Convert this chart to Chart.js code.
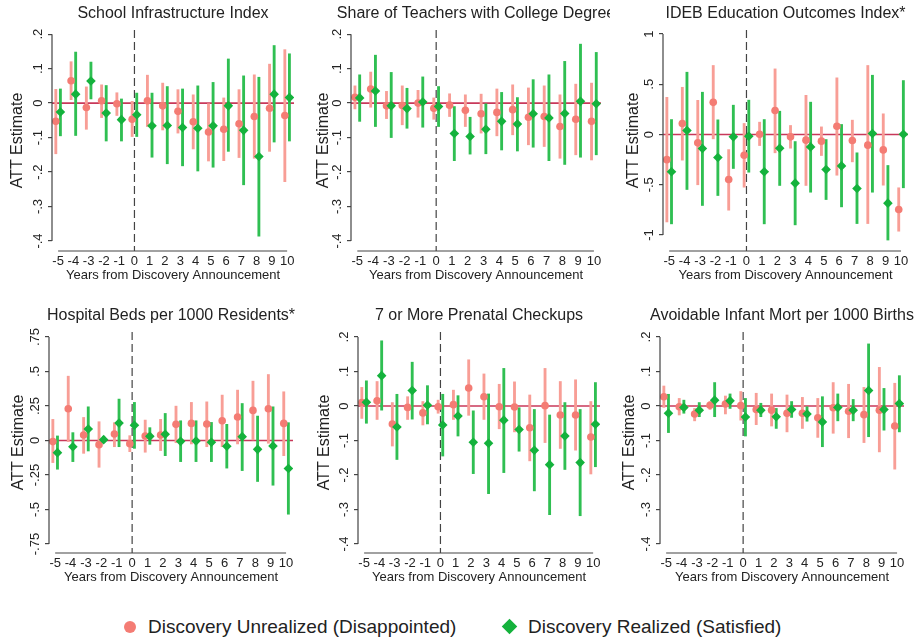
<!DOCTYPE html>
<html>
<head>
<meta charset="utf-8">
<script src="https://cdn.jsdelivr.net/npm/chart.js@4.4.1/dist/chart.umd.min.js"></script>
<style>
  body { margin: 0; background: #fff; width: 915px; height: 641px; overflow: hidden; position: relative;
         font-family: "Liberation Sans", Arial, sans-serif; }
  canvas { position: absolute; }
  .legend-item { position: absolute; top: 615px; height: 24px; line-height: 24px; font-size: 19px; color: #222; white-space: nowrap; }
  .dot { position: absolute; width: 12px; height: 12px; border-radius: 50%; background: #f47c74; top: 621px; }
  .diamond { position: absolute; width: 11px; height: 11px; background: #14b23c; transform: rotate(45deg); top: 621px; }
</style>
</head>
<body>
<canvas id="p0"></canvas>
<canvas id="p1"></canvas>
<canvas id="p2"></canvas>
<canvas id="p3"></canvas>
<canvas id="p4"></canvas>
<canvas id="p5"></canvas>

<div class="dot" style="left:124px"></div>
<div class="legend-item" style="left:148px">Discovery Unrealized (Disappointed)</div>
<div class="diamond" style="left:504px"></div>
<div class="legend-item" style="left:528px">Discovery Realized (Satisfied)</div>

<script>
const years = [-5, -4, -3, -2, -1, 0, 1, 2, 3, 4, 5, 6, 7, 8, 9, 10];

const panelTitles = [
    'School Infrastructure Index',
    'Share of Teachers with College Degree',
    'IDEB Education Outcomes Index*',
    'Hospital Beds per 1000 Residents*',
    '7 or More Prenatal Checkups',
    'Avoidable Infant Mort per 1000 Births'
];

const ticksSmall = [0.2, 0.1, 0, -0.1, -0.2, -0.3, -0.4];
const ticksIdeb = [1, 0.5, 0, -0.5, -1];
const ticksBeds = [0.75, 0.5, 0.25, 0, -0.25, -0.5, -0.75];

// School Infrastructure Index
const schoolUnrealEst = [-0.053, 0.065, -0.013, 0.007, -0.002, -0.047, 0.007, -0.008, -0.024, -0.054, -0.084, -0.076, -0.060, -0.039, -0.015, -0.036];
const schoolUnrealLo = [-0.147, 0.010, -0.076, -0.042, -0.036, -0.097, -0.068, -0.078, -0.087, -0.133, -0.168, -0.167, -0.158, -0.160, -0.140, -0.228];
const schoolUnrealHi = [0.040, 0.120, 0.047, 0.053, 0.030, 0.005, 0.081, 0.058, 0.039, 0.024, 0.000, 0.015, 0.039, 0.082, 0.113, 0.155];
const schoolRealEst = [-0.026, 0.026, 0.064, -0.029, -0.048, -0.034, -0.066, -0.065, -0.071, -0.073, -0.066, -0.008, -0.079, -0.155, 0.026, 0.016];
const schoolRealLo = [-0.095, -0.094, 0.012, -0.110, -0.110, -0.097, -0.157, -0.176, -0.182, -0.197, -0.186, -0.140, -0.237, -0.386, -0.113, -0.110];
const schoolRealHi = [0.041, 0.148, 0.119, 0.051, 0.012, 0.029, 0.029, 0.048, 0.041, 0.050, 0.060, 0.128, 0.079, 0.075, 0.167, 0.143];

// Share of Teachers with College Degree
const teachUnrealEst = [0.017, 0.041, -0.008, -0.007, 0.000, -0.015, -0.006, -0.021, -0.031, -0.027, -0.019, -0.041, -0.039, -0.068, -0.047, -0.053];
const teachUnrealLo = [-0.017, -0.012, -0.045, -0.063, -0.041, -0.047, -0.039, -0.068, -0.087, -0.095, -0.092, -0.121, -0.126, -0.160, -0.150, -0.165];
const teachUnrealHi = [0.050, 0.090, 0.034, 0.050, 0.037, 0.015, 0.027, 0.024, 0.026, 0.041, 0.053, 0.044, 0.050, 0.024, 0.055, 0.058];
const teachRealEst = [0.015, 0.035, -0.008, -0.016, 0.003, -0.010, -0.088, -0.097, -0.076, -0.053, -0.061, -0.031, -0.043, -0.030, 0.005, -0.002];
const teachRealLo = [-0.053, -0.068, -0.100, -0.073, -0.070, -0.068, -0.167, -0.148, -0.147, -0.136, -0.139, -0.128, -0.167, -0.178, -0.157, -0.150];
const teachRealHi = [0.082, 0.139, 0.089, 0.043, 0.076, 0.048, -0.010, -0.041, -0.002, 0.031, 0.016, 0.068, 0.082, 0.121, 0.171, 0.147];

// IDEB Education Outcomes Index
const idebUnrealEst = [-0.250, 0.110, -0.083, 0.320, -0.448, -0.206, 0.003, 0.239, -0.023, -0.056, -0.066, 0.083, -0.060, -0.106, -0.153, -0.746];
const idebUnrealLo = [-0.870, -0.255, -0.500, -0.043, -0.753, -0.524, -0.110, -0.182, -0.136, -0.507, -0.209, -0.405, -0.272, -0.886, -0.504, -0.962];
const idebUnrealHi = [0.370, 0.470, 0.340, 0.687, -0.150, 0.110, 0.123, 0.653, 0.090, 0.390, 0.076, 0.564, 0.143, 0.687, 0.206, -0.530];
const idebRealEst = [-0.371, 0.040, -0.139, -0.229, -0.023, -0.017, -0.371, -0.136, -0.484, -0.123, -0.348, -0.312, -0.537, 0.010, -0.683, 0.003];
const idebRealLo = [-0.889, -0.547, -0.706, -0.607, -0.338, -0.375, -0.889, -0.507, -0.899, -0.574, -0.647, -0.720, -0.886, -0.574, -1.050, -0.530];
const idebRealHi = [0.149, 0.620, 0.421, 0.146, 0.292, 0.342, 0.149, 0.232, -0.070, 0.322, -0.050, 0.100, -0.182, 0.590, -0.308, 0.537];

// Hospital Beds per 1000 Residents
const bedsUnrealEst = [-0.008, 0.230, 0.040, -0.030, 0.047, -0.023, 0.033, 0.040, 0.117, 0.124, 0.120, 0.143, 0.170, 0.218, 0.230, 0.124];
const bedsUnrealLo = [-0.160, -0.008, -0.093, -0.194, -0.045, -0.081, -0.085, -0.073, -0.016, -0.025, -0.045, -0.045, -0.025, 0.004, -0.020, -0.110];
const bedsUnrealHi = [0.153, 0.466, 0.167, 0.136, 0.129, 0.035, 0.148, 0.153, 0.249, 0.276, 0.280, 0.329, 0.365, 0.430, 0.478, 0.353];
const bedsRealEst = [-0.088, -0.045, 0.083, 0.006, 0.126, 0.110, 0.030, 0.045, -0.006, -0.004, -0.013, -0.042, 0.028, -0.064, -0.040, -0.203];
const bedsRealLo = [-0.208, -0.153, -0.076, -0.016, -0.045, -0.057, -0.028, -0.110, -0.153, -0.153, -0.153, -0.200, -0.218, -0.297, -0.324, -0.534];
const bedsRealHi = [0.033, 0.057, 0.244, 0.028, 0.300, 0.276, 0.093, 0.196, 0.143, 0.143, 0.131, 0.117, 0.268, 0.177, 0.244, 0.129];

// 7 or More Prenatal Checkups
const prenatalUnrealEst = [0.010, 0.015, -0.052, -0.004, -0.020, -0.002, 0.004, 0.052, 0.027, -0.002, -0.003, -0.063, 0.001, -0.026, -0.026, -0.090];
const prenatalUnrealLo = [-0.036, -0.039, -0.116, -0.039, -0.055, -0.021, -0.039, -0.027, -0.039, -0.066, -0.075, -0.159, -0.106, -0.123, -0.128, -0.197];
const prenatalUnrealHi = [0.054, 0.071, 0.010, 0.027, 0.013, 0.017, 0.046, 0.134, 0.093, 0.063, 0.070, 0.032, 0.109, 0.071, 0.076, 0.013];
const prenatalRealEst = [0.011, 0.088, -0.061, 0.045, 0.002, -0.055, -0.029, -0.105, -0.108, -0.041, -0.068, -0.128, -0.170, -0.087, -0.164, -0.053];
const prenatalRealLo = [-0.050, -0.012, -0.155, -0.038, -0.052, -0.145, -0.087, -0.196, -0.254, -0.193, -0.131, -0.246, -0.315, -0.184, -0.318, -0.176];
const prenatalRealHi = [0.073, 0.189, 0.034, 0.127, 0.059, 0.034, 0.030, -0.014, 0.035, 0.109, -0.005, -0.010, -0.026, 0.010, -0.010, 0.068];

// Avoidable Infant Mort per 1000 Births
const infantUnrealEst = [0.027, -0.002, -0.023, 0.002, 0.006, 0.001, -0.010, -0.012, -0.021, -0.021, -0.034, -0.005, -0.015, -0.025, -0.012, -0.058];
const infantUnrealLo = [-0.004, -0.026, -0.043, -0.010, -0.023, -0.041, -0.054, -0.058, -0.075, -0.065, -0.091, -0.079, -0.092, -0.106, -0.133, -0.183];
const infantUnrealHi = [0.058, 0.022, -0.007, 0.013, 0.029, 0.042, 0.037, 0.035, 0.032, 0.025, 0.022, 0.068, 0.063, 0.054, 0.112, 0.066];
const infantRealEst = [-0.021, -0.004, -0.012, 0.017, 0.015, -0.032, -0.012, -0.031, -0.010, -0.023, -0.046, -0.004, -0.012, 0.045, -0.010, 0.007];
const infantRealLo = [-0.077, -0.021, -0.031, -0.031, -0.007, -0.087, -0.031, -0.065, -0.033, -0.044, -0.118, -0.043, -0.043, -0.089, -0.070, -0.075];
const infantRealHi = [0.034, 0.017, 0.010, 0.068, 0.035, 0.022, 0.008, -0.007, 0.013, -0.002, 0.027, 0.035, 0.019, 0.180, 0.051, 0.088];

const panelData = [
    [schoolUnrealEst, schoolUnrealLo, schoolUnrealHi, schoolRealEst, schoolRealLo, schoolRealHi],
    [teachUnrealEst, teachUnrealLo, teachUnrealHi, teachRealEst, teachRealLo, teachRealHi],
    [idebUnrealEst, idebUnrealLo, idebUnrealHi, idebRealEst, idebRealLo, idebRealHi],
    [bedsUnrealEst, bedsUnrealLo, bedsUnrealHi, bedsRealEst, bedsRealLo, bedsRealHi],
    [prenatalUnrealEst, prenatalUnrealLo, prenatalUnrealHi, prenatalRealEst, prenatalRealLo, prenatalRealHi],
    [infantUnrealEst, infantUnrealLo, infantUnrealHi, infantRealEst, infantRealLo, infantRealHi]
];
const panelTicks = [ticksSmall, ticksSmall, ticksIdeb, ticksBeds, ticksSmall, ticksSmall];

// placement of each plot region on the page (pixels) and y ranges
const layouts = [
    { left: 52, width: 242, top: 0, yMin: -0.429, yMax: 0.212, titlePad: 8 },
    { left: 351, width: 250, top: 0, yMin: -0.429, yMax: 0.212, titlePad: 15, clipRight: 43 },
    { left: 663, width: 245, top: 0, yMin: -1.159, yMax: 1.04, titlePad: 13 },
    { left: 49, width: 244, top: 302, yMin: -0.815, yMax: 0.786, titlePad: 12 },
    { left: 358, width: 242, top: 302, yMin: -0.426, yMax: 0.2145, titlePad: 9 },
    { left: 660, width: 244, top: 302, yMin: -0.426, yMax: 0.2145, titlePad: 12 }
];

const X_MIN = -5.4;
const X_MAX = 10.45;
const OFFSET = 0.15;
const AXIS_W = 52;
const CANVAS_H = 290;
const X_AXIS_H = 39;

const RED = '#f47c74';
const RED_CI = '#f89e96';
const GREEN = '#14b23c';
const GREEN_CI = '#2fbf52';
const FONT = '"Liberation Sans", Arial, sans-serif';

function stataNum(v) {
    if (v === 0) return '0';
    return String(v).replace('0.', '.');
}

const stataAxes = {
    id: 'stataAxes',
    beforeDatasetsDraw(chart) {
        const { ctx, chartArea: a, scales: { x, y } } = chart;
        ctx.save();
        const y0 = y.getPixelForValue(0);
        ctx.strokeStyle = '#c8385a';
        ctx.lineWidth = 1.6;
        ctx.beginPath();
        ctx.moveTo(a.left, y0);
        ctx.lineTo(a.right, y0);
        ctx.stroke();

        const x0 = x.getPixelForValue(0);
        ctx.strokeStyle = '#444';
        ctx.lineWidth = 1.2;
        ctx.setLineDash([8, 4]);
        ctx.beginPath();
        ctx.moveTo(x0, a.top);
        ctx.lineTo(x0, a.bottom);
        ctx.stroke();
        ctx.restore();
    },
    afterDraw(chart) {
        const { ctx, chartArea: a, scales: { x, y } } = chart;
        const ticks = y.ticks.map(t => t.value);
        ctx.save();
        ctx.strokeStyle = '#444';
        ctx.lineWidth = 1.2;
        ctx.beginPath();
        ctx.moveTo(a.left, y.getPixelForValue(Math.max(...ticks)));
        ctx.lineTo(a.left, y.getPixelForValue(Math.min(...ticks)));
        ctx.moveTo(x.getPixelForValue(years[0]), a.bottom);
        ctx.lineTo(x.getPixelForValue(years[years.length - 1]), a.bottom);
        ctx.stroke();

        ctx.fillStyle = '#222';
        ctx.font = '13px ' + FONT;
        ctx.textAlign = 'center';
        ctx.textBaseline = 'middle';
        ticks.forEach(v => {
            ctx.save();
            ctx.translate(a.left - 14, y.getPixelForValue(v));
            ctx.rotate(-Math.PI / 2);
            ctx.fillText(stataNum(v), 0, 0);
            ctx.restore();
        });
        ctx.restore();
    }
};

function buildPanel(i) {
    const lay = layouts[i];
    const [uEst, uLo, uHi, rEst, rLo, rHi] = panelData[i];
    const canvas = document.getElementById('p' + i);
    canvas.width = AXIS_W + lay.width + AXIS_W;
    canvas.height = CANVAS_H;
    canvas.style.left = (lay.left - AXIS_W) + 'px';
    canvas.style.top = lay.top + 'px';
    if (lay.clipRight) canvas.style.clipPath = `inset(0 ${lay.clipRight}px 0 0)`;

    const ciOpts = { type: 'bar', grouped: false, barThickness: 2.2, borderWidth: 0 };

    new Chart(canvas, {
        type: 'bar',
        data: {
            datasets: [
                { ...ciOpts, data: years.map((yr, k) => ({ x: yr - OFFSET, y: [uLo[k], uHi[k]] })), backgroundColor: RED_CI, order: 4 },
                { ...ciOpts, data: years.map((yr, k) => ({ x: yr + OFFSET, y: [rLo[k], rHi[k]] })), backgroundColor: GREEN_CI, order: 3 },
                { type: 'scatter', data: years.map((yr, k) => ({ x: yr - OFFSET, y: uEst[k] })),
                  pointStyle: 'circle', pointRadius: 3.8, backgroundColor: RED, borderWidth: 0, order: 2 },
                { type: 'scatter', data: years.map((yr, k) => ({ x: yr + OFFSET, y: rEst[k] })),
                  pointStyle: 'rectRot', pointRadius: 4.8, backgroundColor: GREEN, borderWidth: 0, order: 1 }
            ]
        },
        options: {
            responsive: false,
            animation: false,
            events: [],
            layout: { autoPadding: false, padding: 0 },
            plugins: {
                legend: { display: false },
                tooltip: { enabled: false },
                title: {
                    display: true,
                    text: panelTitles[i],
                    color: '#222',
                    font: { family: FONT, size: 16, weight: 'normal', lineHeight: 1.125 },
                    padding: { top: 5, bottom: 7 }
                }
            },
            scales: {
                x: {
                    type: 'linear',
                    min: X_MIN,
                    max: X_MAX,
                    offset: false,
                    grid: { display: false, drawTicks: false },
                    border: { display: false },
                    afterBuildTicks: s => { s.ticks = years.map(v => ({ value: v })); },
                    afterFit: s => { s.height = X_AXIS_H; },
                    ticks: {
                        autoSkip: false,
                        maxRotation: 0,
                        padding: 3,
                        color: '#222',
                        font: { family: FONT, size: 13 },
                        callback: v => String(v)
                    },
                    title: {
                        display: true,
                        text: 'Years from Discovery Announcement',
                        color: '#222',
                        font: { family: FONT, size: 13 },
                        padding: { top: 0, bottom: 7 }
                    }
                },
                y: {
                    type: 'linear',
                    min: lay.yMin,
                    max: lay.yMax,
                    grid: { drawOnChartArea: false, drawTicks: true, tickLength: 4, color: '#444', lineWidth: 1.2 },
                    border: { display: false },
                    afterBuildTicks: s => { s.ticks = panelTicks[i].map(v => ({ value: v })); },
                    afterFit: s => { s.width = AXIS_W; },
                    ticks: { display: false },
                    title: {
                        display: true,
                        text: 'ATT Estimate',
                        color: '#222',
                        font: { family: FONT, size: 16 },
                        padding: { top: lay.titlePad, bottom: 0 }
                    }
                },
                yRight: {
                    position: 'right',
                    display: true,
                    grid: { display: false, drawTicks: false },
                    border: { display: false },
                    ticks: { display: false },
                    afterFit: s => { s.width = AXIS_W; }
                }
            }
        },
        plugins: [stataAxes]
    });
}

panelTitles.forEach((t, i) => buildPanel(i));
</script>
</body>
</html>
